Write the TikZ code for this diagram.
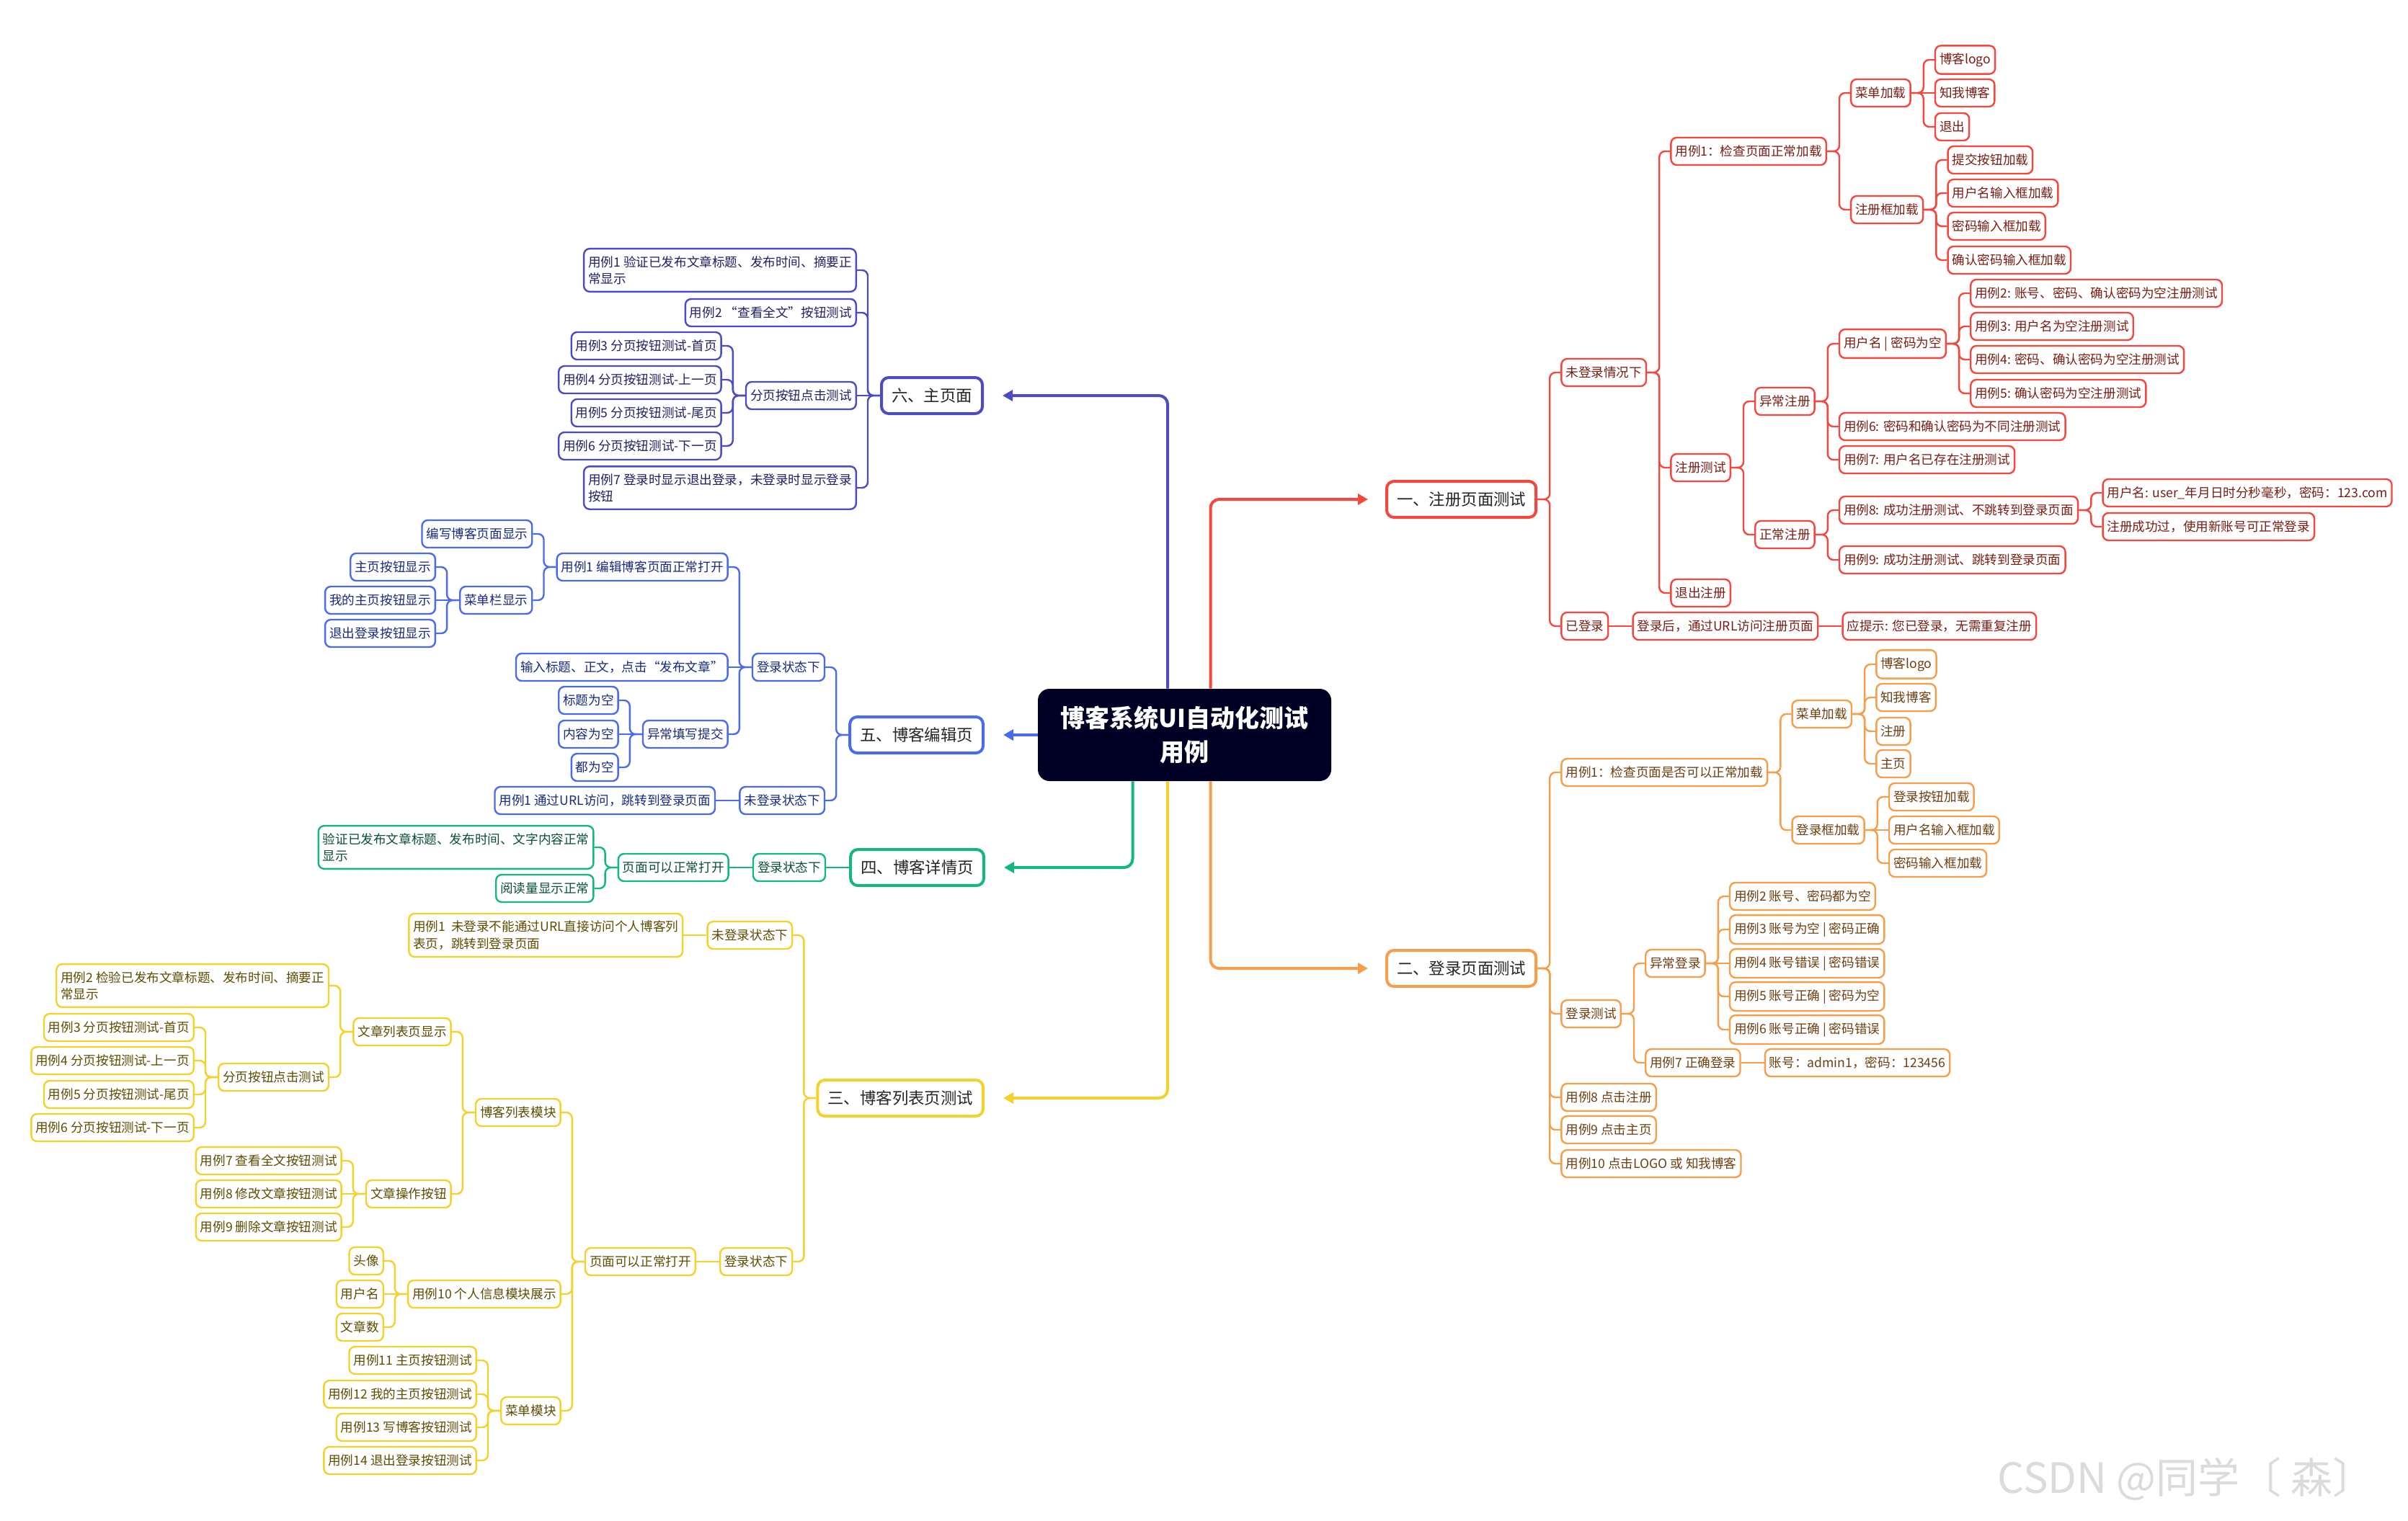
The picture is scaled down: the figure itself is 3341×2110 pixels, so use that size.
\documentclass[tikz,border=0pt]{standalone}
\usepackage{fontspec}
\setmainfont{Noto Sans CJK SC}
\usetikzlibrary{calc,arrows.meta}
\definecolor{cR}{HTML}{F5473D}
\definecolor{tR}{HTML}{7A1C12}
\definecolor{cO}{HTML}{F59E4C}
\definecolor{tO}{HTML}{6E3E0E}
\definecolor{cI}{HTML}{4B4BC4}
\definecolor{tI}{HTML}{202066}
\definecolor{cB}{HTML}{4A6BF0}
\definecolor{tB}{HTML}{172A80}
\definecolor{cG}{HTML}{14B87E}
\definecolor{tG}{HTML}{0B5034}
\definecolor{cY}{HTML}{F5D12B}
\definecolor{tY}{HTML}{5E4C00}
\definecolor{rootc}{HTML}{000025}
\newcommand\fleaf{\fontsize{8.8pt}{11.6pt}\selectfont}
\newcommand\fsec{\fontsize{11.2pt}{13pt}\selectfont}
\newcommand\froot{\fontsize{17pt}{23.5pt}\selectfont\bfseries}
\tikzset{
  leaf/.style={draw, line width=1.2pt, rounded corners=4pt, fill=white, font=\fleaf,
    align=left, inner xsep=3pt, inner ysep=5pt, minimum height=19pt},
  tline/.style={line width=1.2pt, rounded corners=4pt},
  rnode/.style={leaf, draw=cR, text=tR}, rline/.style={tline, draw=cR},
  onode/.style={leaf, draw=cO, text=tO}, oline/.style={tline, draw=cO},
  inode/.style={leaf, draw=cI, text=tI}, iline/.style={tline, draw=cI},
  bnode/.style={leaf, draw=cB, text=tB}, bline/.style={tline, draw=cB},
  gnode/.style={leaf, draw=cG, text=tG}, gline/.style={tline, draw=cG},
  ynode/.style={leaf, draw=cY, text=tY}, yline/.style={tline, draw=cY},
  sec/.style={draw, line width=2pt, rounded corners=5pt, fill=white, font=\fsec,
    inner xsep=7pt, minimum height=25pt, text=black!85},
  rootbox/.style={fill=rootc, text=white, rounded corners=8pt, minimum width=203.5pt,
    minimum height=64pt, align=center, font=\froot},
  mainl/.style={line width=2pt, rounded corners=6pt, -{Triangle[length=7pt,width=7.5pt]}},
}
% right-side child: name, parent, y, branch, text
\newcommand\rkid[5]{%
  \node[#4node, anchor=west] (#1) at ($(#2.east |- 0,#3)+(32,0)$) {#5};
  \draw[#4line] (#2.east) -- ++(17,0) |- (#1.west);}
% right-side child on the parent's line
\newcommand\rsame[4]{%
  \node[#3node, anchor=west] (#1) at ($(#2.east)+(32,0)$) {#4};
  \draw[#3line] (#2.east) -- (#1.west);}
% left-side child
\newcommand\lkid[5]{%
  \node[#4node, anchor=east] (#1) at ($(#2.west |- 0,#3)+(-32,0)$) {#5};
  \draw[#4line] (#2.west) -- ++(-17,0) |- (#1.east);}
\newcommand\lsame[4]{%
  \node[#3node, anchor=east] (#1) at ($(#2.west)+(-32,0)$) {#4};
  \draw[#3line] (#2.west) -- (#1.east);}
\begin{document}
\begin{tikzpicture}[x=0.5pt,y=-0.5pt]
\fill[white] (0,0) rectangle (3341,2110);
\useasboundingbox (0,0) rectangle (3341,2110);

% root
\node[rootbox] (root) at (1643.5,1020) {博客系统UI自动化测试\\用例};

% sections
\node[sec, draw=cR, anchor=west] (s1) at (1922,693) {一、注册页面测试};
\node[sec, draw=cO, anchor=west] (s2) at (1922,1344) {二、登录页面测试};
\node[sec, draw=cY, anchor=east] (s3) at (1366,1524) {三、博客列表页测试};
\node[sec, draw=cG, anchor=east] (s4) at (1367,1204) {四、博客详情页};
\node[sec, draw=cB, anchor=east] (s5) at (1366,1020) {五、博客编辑页};
\node[sec, draw=cI, anchor=east] (s6) at (1365,549) {六、主页面};

% main connectors
\draw[mainl, color=cI] ($(root.north)+(-23.5,0)$) |- ($(s6.east)+(26,0)$);
\draw[mainl, color=cR] ($(root.north)+(36,0)$) |- ($(s1.west)+(-24,0)$);
\draw[mainl, color=cB] (root.west) -- ($(s5.east)+(26,0)$);
\draw[mainl, color=cG] ($(root.south)+(-72,0)$) |- ($(s4.east)+(26,0)$);
\draw[mainl, color=cY] ($(root.south)+(-23.5,0)$) |- ($(s3.east)+(26,0)$);
\draw[mainl, color=cO] ($(root.south)+(36,0)$) |- ($(s2.west)+(-24,0)$);

% ===== red branch =====
\rkid{r1}{s1}{517}{r}{未登录情况下}
\rkid{r2}{s1}{869}{r}{已登录}
\rkid{r11}{r1}{210}{r}{用例1：检查页面正常加载}
\rkid{r12}{r1}{649}{r}{注册测试}
\rkid{r13}{r1}{823}{r}{退出注册}
\rkid{r111}{r11}{129}{r}{菜单加载}
\rkid{r112}{r11}{291}{r}{注册框加载}
\rkid{r111a}{r111}{83}{r}{博客logo}
\rsame{r111b}{r111}{r}{知我博客}
\rkid{r111c}{r111}{176}{r}{退出}
\rkid{r112a}{r112}{222}{r}{提交按钮加载}
\rkid{r112b}{r112}{268}{r}{用户名输入框加载}
\rkid{r112c}{r112}{314}{r}{密码输入框加载}
\rkid{r112d}{r112}{361}{r}{确认密码输入框加载}
\rkid{r121}{r12}{557}{r}{异常注册}
\rkid{r122}{r12}{742}{r}{正常注册}
\rkid{r1211}{r121}{477}{r}{用户名 | 密码为空}
\rkid{r1212}{r121}{592}{r}{用例6: 密码和确认密码为不同注册测试}
\rkid{r1213}{r121}{638}{r}{用例7: 用户名已存在注册测试}
\rkid{r1211a}{r1211}{407}{r}{用例2: 账号、密码、确认密码为空注册测试}
\rkid{r1211b}{r1211}{453}{r}{用例3: 用户名为空注册测试}
\rkid{r1211c}{r1211}{499}{r}{用例4: 密码、确认密码为空注册测试}
\rkid{r1211d}{r1211}{546}{r}{用例5: 确认密码为空注册测试}
\rkid{r1221}{r122}{708}{r}{用例8: 成功注册测试、不跳转到登录页面}
\rkid{r1222}{r122}{777}{r}{用例9: 成功注册测试、跳转到登录页面}
\rkid{r1221a}{r1221}{684}{r}{用户名: user\_年月日时分秒毫秒，密码：123.com}
\rkid{r1221b}{r1221}{731}{r}{注册成功过，使用新账号可正常登录}
\rsame{r21}{r2}{r}{登录后，通过URL访问注册页面}
\rsame{r211}{r21}{r}{应提示: 您已登录，无需重复注册}

% ===== orange branch =====
\rkid{o1}{s2}{1072}{o}{用例1：检查页面是否可以正常加载}
\rkid{o2}{s2}{1407}{o}{登录测试}
\rkid{o3}{s2}{1523}{o}{用例8 点击注册}
\rkid{o4}{s2}{1568}{o}{用例9 点击主页}
\rkid{o5}{s2}{1615}{o}{用例10 点击LOGO 或 知我博客}
\rkid{o11}{o1}{991}{o}{菜单加载}
\rkid{o12}{o1}{1152}{o}{登录框加载}
\rkid{o11a}{o11}{922}{o}{博客logo}
\rkid{o11b}{o11}{968}{o}{知我博客}
\rkid{o11c}{o11}{1015}{o}{注册}
\rkid{o11d}{o11}{1060}{o}{主页}
\rkid{o12a}{o12}{1106}{o}{登录按钮加载}
\rsame{o12b}{o12}{o}{用户名输入框加载}
\rkid{o12c}{o12}{1198}{o}{密码输入框加载}
\rkid{o21}{o2}{1337}{o}{异常登录}
\rkid{o22}{o2}{1475}{o}{用例7 正确登录}
\rkid{o21a}{o21}{1244}{o}{用例2 账号、密码都为空}
\rkid{o21b}{o21}{1290}{o}{用例3 账号为空 | 密码正确}
\rsame{o21c}{o21}{o}{用例4 账号错误 | 密码错误}
\rkid{o21d}{o21}{1383}{o}{用例5 账号正确 | 密码为空}
\rkid{o21e}{o21}{1429}{o}{用例6 账号正确 | 密码错误}
\rsame{o221}{o22}{o}{账号：admin1，密码：123456}

% ===== indigo branch (六) =====
\lkid{i1}{s6}{375}{i}{用例1 验证已发布文章标题、发布时间、摘要正\\常显示}
\lkid{i2}{s6}{434}{i}{用例2 “查看全文”按钮测试}
\lsame{i3}{s6}{i}{分页按钮点击测试}
\lkid{i4}{s6}{677}{i}{用例7 登录时显示退出登录，未登录时显示登录\\按钮}
\lkid{i3a}{i3}{480}{i}{用例3 分页按钮测试-首页}
\lkid{i3b}{i3}{527}{i}{用例4 分页按钮测试-上一页}
\lkid{i3c}{i3}{573}{i}{用例5 分页按钮测试-尾页}
\lkid{i3d}{i3}{619}{i}{用例6 分页按钮测试-下一页}

% ===== blue branch (五) =====
\lkid{b1}{s5}{926}{b}{登录状态下}
\lkid{b2}{s5}{1111}{b}{未登录状态下}
\lkid{b11}{b1}{787}{b}{用例1 编辑博客页面正常打开}
\lsame{b12}{b1}{b}{输入标题、正文，点击“发布文章”}
\lkid{b13}{b1}{1019}{b}{异常填写提交}
\lkid{b111}{b11}{741}{b}{编写博客页面显示}
\lkid{b112}{b11}{833}{b}{菜单栏显示}
\lkid{b112a}{b112}{787}{b}{主页按钮显示}
\lsame{b112b}{b112}{b}{我的主页按钮显示}
\lkid{b112c}{b112}{879}{b}{退出登录按钮显示}
\lkid{b13a}{b13}{972}{b}{标题为空}
\lsame{b13b}{b13}{b}{内容为空}
\lkid{b13c}{b13}{1065}{b}{都为空}
\lsame{b21}{b2}{b}{用例1 通过URL访问，跳转到登录页面}

% ===== green branch (四) =====
\lsame{g1}{s4}{g}{登录状态下}
\lsame{g11}{g1}{g}{页面可以正常打开}
\lkid{g11a}{g11}{1176}{g}{验证已发布文章标题、发布时间、文字内容正常\\显示}
\lkid{g11b}{g11}{1233}{g}{阅读量显示正常}

% ===== yellow branch (三) =====
\lkid{y1}{s3}{1298}{y}{未登录状态下}
\lkid{y2}{s3}{1751}{y}{登录状态下}
\lsame{y11}{y1}{y}{用例1 \ 未登录不能通过URL直接访问个人博客列\\表页，跳转到登录页面}
\lsame{y21}{y2}{y}{页面可以正常打开}
\lkid{y211}{y21}{1544}{y}{博客列表模块}
\lkid{y212}{y21}{1796}{y}{用例10 个人信息模块展示}
\lkid{y213}{y21}{1958}{y}{菜单模块}
\lkid{y2111}{y211}{1432}{y}{文章列表页显示}
\lkid{y2112}{y211}{1657}{y}{文章操作按钮}
\lkid{y21111}{y2111}{1368}{y}{用例2 检验已发布文章标题、发布时间、摘要正\\常显示}
\lkid{y21112}{y2111}{1495}{y}{分页按钮点击测试}
\lkid{y21112a}{y21112}{1426}{y}{用例3 分页按钮测试-首页}
\lkid{y21112b}{y21112}{1472}{y}{用例4 分页按钮测试-上一页}
\lkid{y21112c}{y21112}{1519}{y}{用例5 分页按钮测试-尾页}
\lkid{y21112d}{y21112}{1565}{y}{用例6 分页按钮测试-下一页}
\lkid{y2112a}{y2112}{1611}{y}{用例7 查看全文按钮测试}
\lsame{y2112b}{y2112}{y}{用例8 修改文章按钮测试}
\lkid{y2112c}{y2112}{1703}{y}{用例9 删除文章按钮测试}
\lkid{y212a}{y212}{1750}{y}{头像}
\lsame{y212b}{y212}{y}{用户名}
\lkid{y212c}{y212}{1842}{y}{文章数}
\lkid{y213a}{y213}{1888}{y}{用例11 主页按钮测试}
\lkid{y213b}{y213}{1935}{y}{用例12 我的主页按钮测试}
\lkid{y213c}{y213}{1981}{y}{用例13 写博客按钮测试}
\lkid{y213d}{y213}{2027}{y}{用例14 退出登录按钮测试}

% watermark
\node[font=\fontsize{29pt}{30pt}\selectfont, text=black!14, anchor=east, inner sep=0pt] (wm) at (3295,2053) {CSDN @同学〔 森〕};
\end{tikzpicture}
\end{document}
